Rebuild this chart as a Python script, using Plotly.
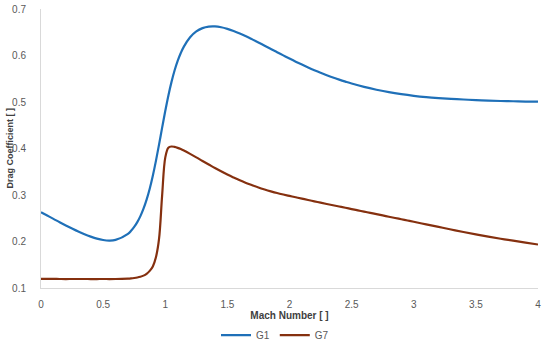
import plotly.graph_objects as go

mach_g1 = [0.00, 0.05, 0.10, 0.15, 0.20, 0.25, 0.30, 0.35, 0.40, 0.45, 0.50, 0.55, 0.60, 0.70,
           0.725, 0.75, 0.775, 0.80, 0.825, 0.85, 0.875, 0.90, 0.925, 0.95, 0.975, 1.00, 1.025,
           1.05, 1.075, 1.10, 1.125, 1.15, 1.20, 1.25, 1.30, 1.35, 1.40, 1.45, 1.50, 1.55, 1.60,
           1.65, 1.70, 1.75, 1.80, 1.85, 1.90, 1.95, 2.00, 2.05, 2.10, 2.15, 2.20, 2.25, 2.30,
           2.35, 2.40, 2.45, 2.50, 2.60, 2.70, 2.80, 2.90, 3.00, 3.10, 3.20, 3.30, 3.40, 3.50,
           3.60, 3.70, 3.80, 3.90, 4.00]
cd_g1 = [0.2629, 0.2558, 0.2487, 0.2413, 0.2344, 0.2278, 0.2214, 0.2155, 0.2104, 0.2061, 0.2032,
         0.2020, 0.2034, 0.2165, 0.2230, 0.2313, 0.2417, 0.2546, 0.2706, 0.2901, 0.3136, 0.3415,
         0.3734, 0.4084, 0.4448, 0.4805, 0.5136, 0.5427, 0.5677, 0.5883, 0.6053, 0.6191, 0.6393,
         0.6518, 0.6589, 0.6621, 0.6625, 0.6607, 0.6573, 0.6528, 0.6474, 0.6413, 0.6347, 0.6280,
         0.6210, 0.6141, 0.6072, 0.6003, 0.5934, 0.5867, 0.5804, 0.5743, 0.5685, 0.5630, 0.5577,
         0.5527, 0.5481, 0.5438, 0.5397, 0.5325, 0.5264, 0.5211, 0.5168, 0.5133, 0.5105, 0.5084,
         0.5067, 0.5054, 0.5040, 0.5030, 0.5022, 0.5016, 0.5010, 0.5006]

mach_g7 = [0.00, 0.05, 0.10, 0.15, 0.20, 0.25, 0.30, 0.35, 0.40, 0.45, 0.50, 0.55, 0.60, 0.65,
           0.70, 0.725, 0.75, 0.775, 0.80, 0.825, 0.85, 0.875, 0.90, 0.925, 0.95, 0.975, 1.00,
           1.025, 1.05, 1.075, 1.10, 1.125, 1.15, 1.20, 1.25, 1.30, 1.35, 1.40, 1.50, 1.55, 1.60,
           1.65, 1.70, 1.75, 1.80, 1.85, 1.90, 1.95, 2.00, 2.05, 2.10, 2.15, 2.20, 2.25, 2.30,
           2.35, 2.40, 2.45, 2.50, 2.55, 2.60, 2.65, 2.70, 2.75, 2.80, 2.85, 2.90, 2.95, 3.00,
           3.10, 3.20, 3.30, 3.40, 3.50, 3.60, 3.70, 3.80, 3.90, 4.00]
cd_g7 = [0.1198, 0.1197, 0.1196, 0.1194, 0.1193, 0.1194, 0.1194, 0.1194, 0.1193, 0.1193, 0.1194,
         0.1193, 0.1194, 0.1197, 0.1202, 0.1207, 0.1215, 0.1226, 0.1242, 0.1266, 0.1306, 0.1368,
         0.1464, 0.1660, 0.2054, 0.2993, 0.3803, 0.4015, 0.4043, 0.4034, 0.4014, 0.3987, 0.3955,
         0.3884, 0.3810, 0.3732, 0.3657, 0.3580, 0.3440, 0.3376, 0.3315, 0.3260, 0.3209, 0.3160,
         0.3117, 0.3078, 0.3042, 0.3010, 0.2980, 0.2951, 0.2922, 0.2892, 0.2864, 0.2835, 0.2807,
         0.2779, 0.2752, 0.2725, 0.2697, 0.2670, 0.2643, 0.2615, 0.2588, 0.2561, 0.2533, 0.2506,
         0.2479, 0.2451, 0.2424, 0.2368, 0.2313, 0.2258, 0.2205, 0.2154, 0.2106, 0.2060, 0.2017,
         0.1975, 0.1935]

x_ticks = [0, 0.5, 1, 1.5, 2, 2.5, 3, 3.5, 4]
x_tick_labels = ["0", "0.5", "1", "1.5", "2", "2.5", "3", "3.5", "4"]
y_ticks = [0.1, 0.2, 0.3, 0.4, 0.5, 0.6, 0.7]
y_tick_labels = ["0.1", "0.2", "0.3", "0.4", "0.5", "0.6", "0.7"]

fig = go.Figure()
fig.add_trace(go.Scatter(x=mach_g1, y=cd_g1, mode="lines", name="G1",
                         line=dict(color="#1f70b8", width=2.2, shape="spline")))
fig.add_trace(go.Scatter(x=mach_g7, y=cd_g7, mode="lines", name="G7",
                         line=dict(color="#85300f", width=2.2, shape="spline")))

font_family = "Liberation Sans Narrow, Liberation Sans, Arial, sans-serif"
fig.update_layout(
    width=550, height=343,
    margin=dict(l=41, r=12, t=9, b=55, autoexpand=False),
    paper_bgcolor="white", plot_bgcolor="white",
    font=dict(family=font_family, size=10, color="#595959"),
    showlegend=True,
    legend=dict(orientation="h", xref="container", yref="container",
                x=0.5, xanchor="center", y=0.023, yanchor="middle",
                font=dict(size=10, color="#595959"),
                tracegroupgap=0, bgcolor="rgba(0,0,0,0)"),
    xaxis=dict(range=[0, 4.0001], tickvals=x_ticks, ticktext=x_tick_labels,
               showgrid=False, zeroline=False, showline=True, linecolor="#d9d9d9",
               linewidth=1, ticks="", ticklabelstandoff=7, automargin=False,
               title=dict(text="<b>Mach Number [ ]</b>", standoff=15,
                          font=dict(size=10, color="#404040"))),
    yaxis=dict(range=[0.1, 0.7], tickvals=y_ticks, ticktext=y_tick_labels,
               showgrid=False, zeroline=False, showline=True, linecolor="#d9d9d9",
               linewidth=1, ticks="", ticklabelstandoff=12, automargin=False),
    annotations=[dict(text="<b>Drag Coefficient [ ]</b>", xref="paper", yref="paper",
                      x=0, y=0.5, xanchor="center", yanchor="middle", xshift=-32,
                      textangle=-90, showarrow=False,
                      font=dict(size=9, color="#404040"))],
)

fig.write_html("out.html", config={"displayModeBar": False},
               post_script="document.body.style.margin='0';")
